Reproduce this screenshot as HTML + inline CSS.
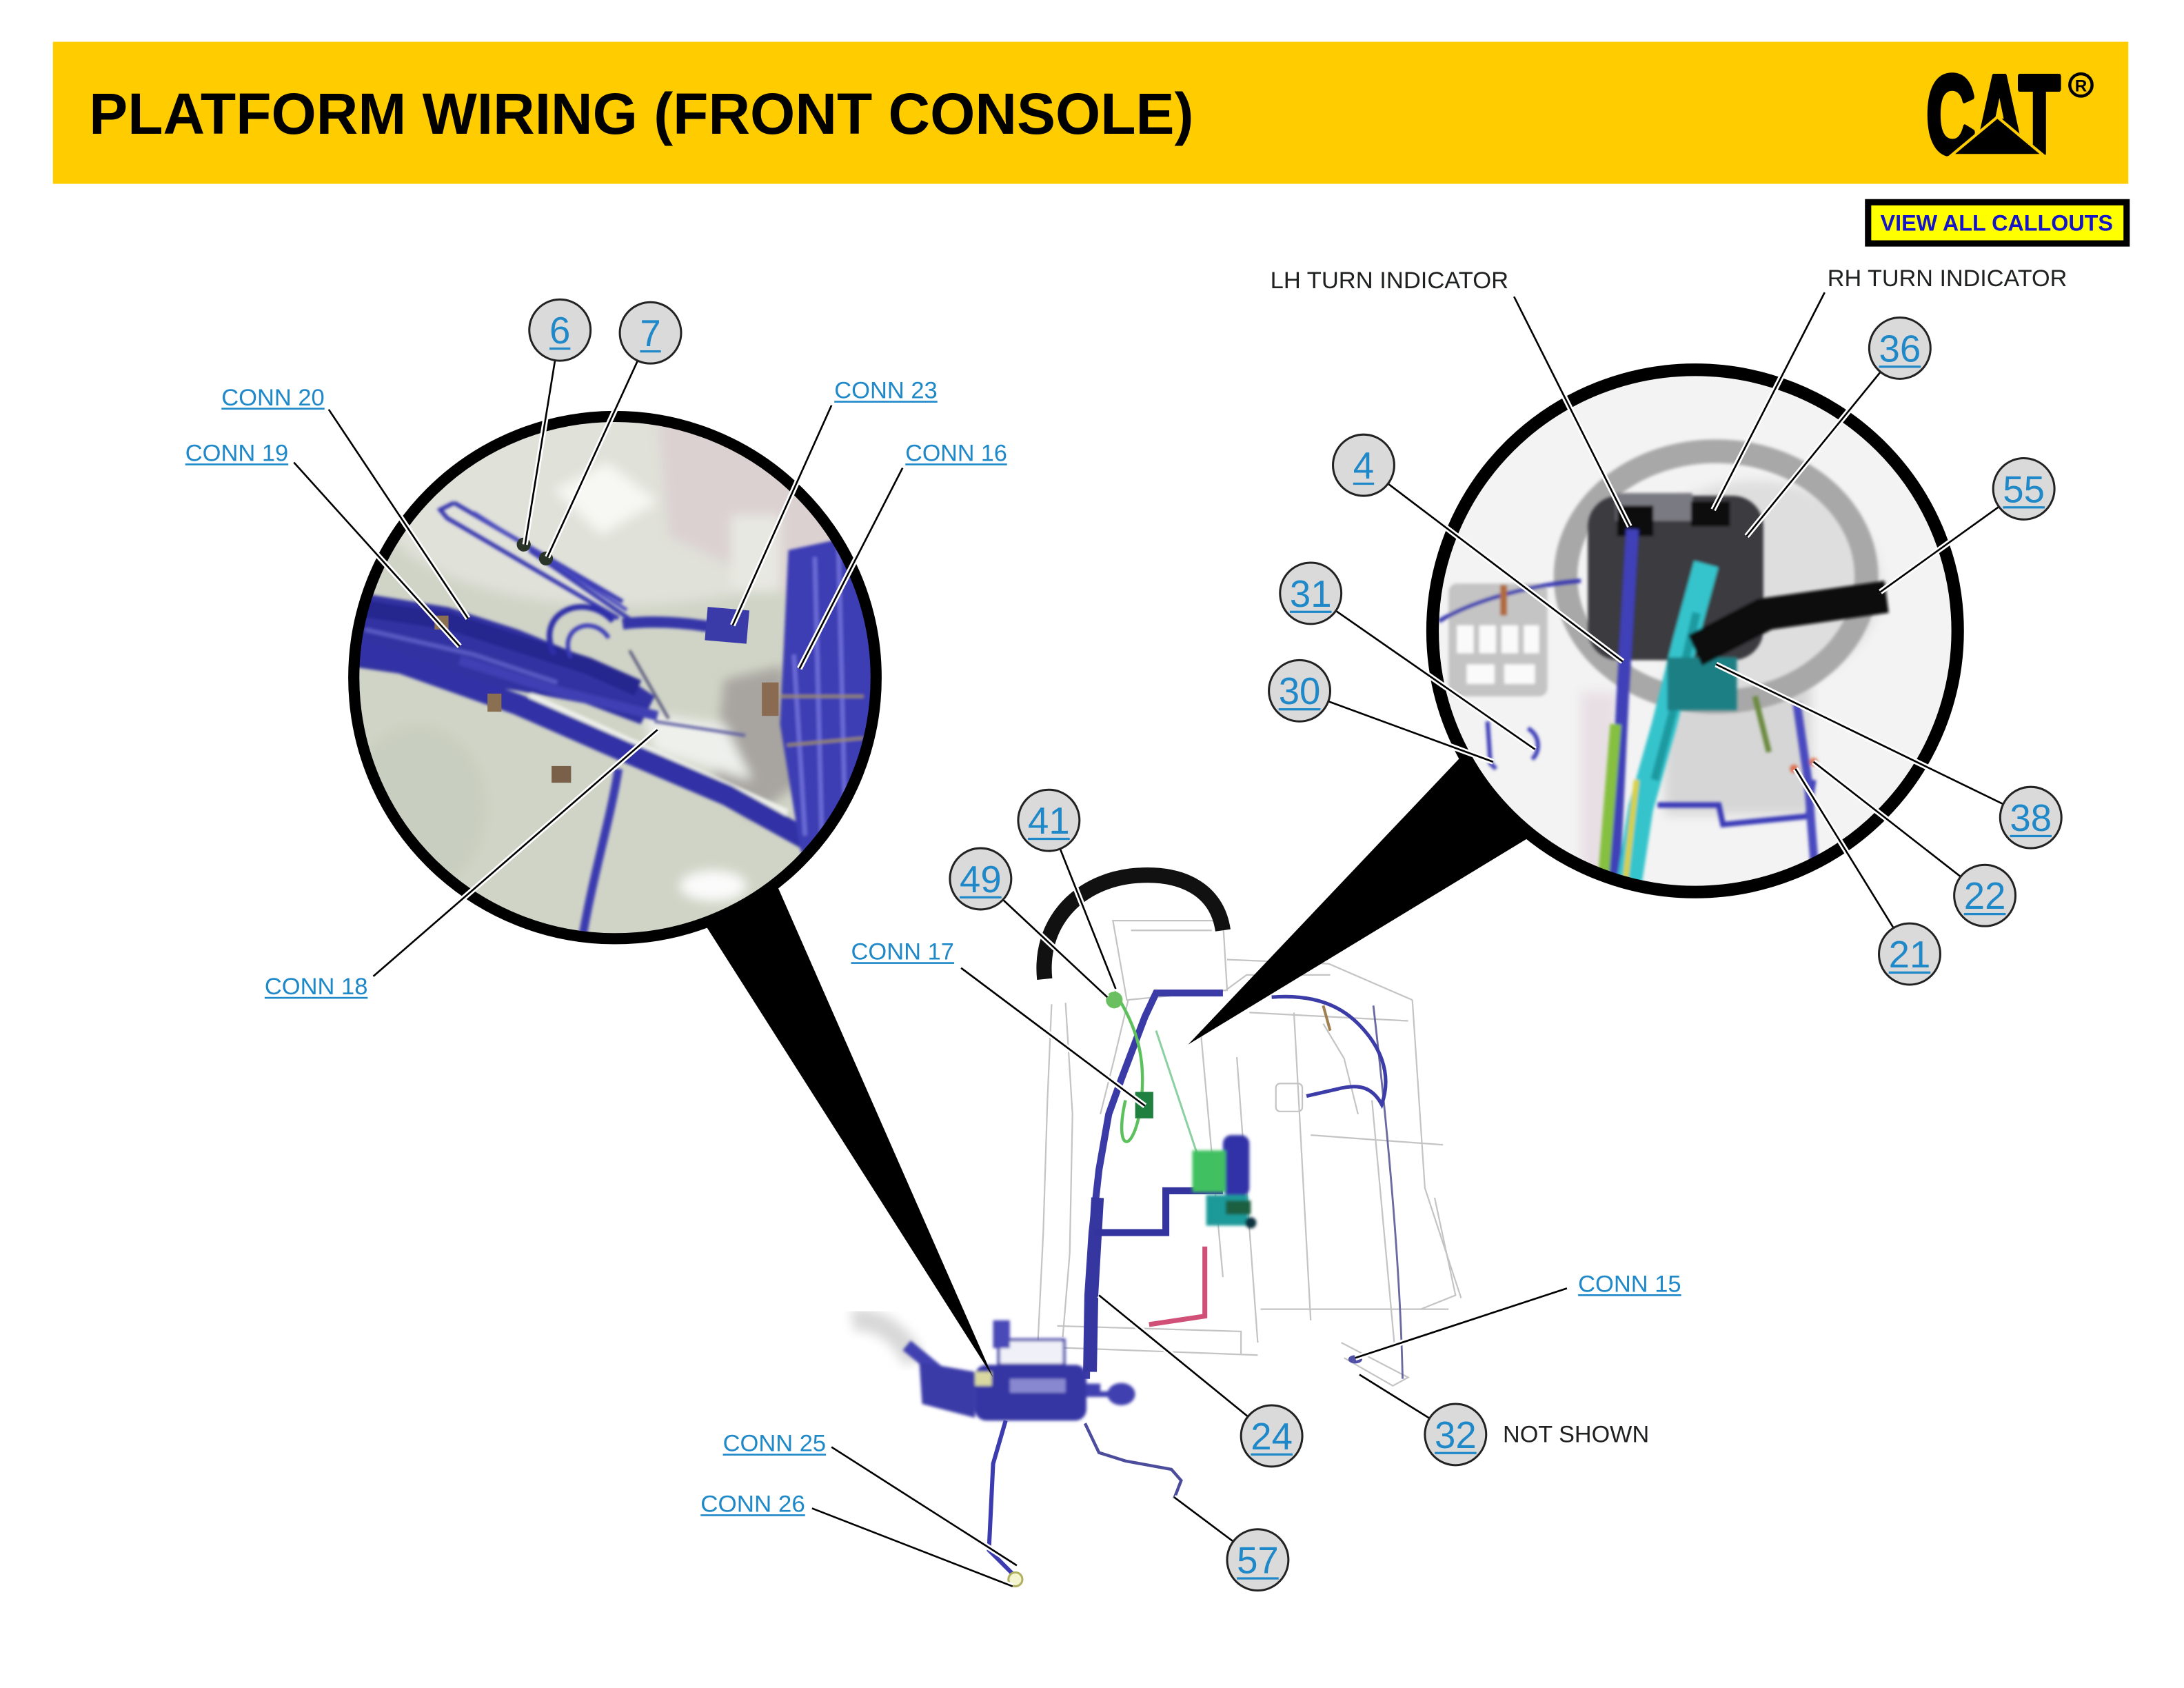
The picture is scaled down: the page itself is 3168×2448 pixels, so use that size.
<!DOCTYPE html>
<html><head><meta charset="utf-8">
<style>
html,body{margin:0;padding:0;background:#fff;}
svg{display:block;}
text{font-family:"Liberation Sans", Arial, sans-serif;}
</style></head>
<body>
<svg width="3168" height="2448" viewBox="0 0 1568 1212" preserveAspectRatio="none" xmlns="http://www.w3.org/2000/svg" xmlns:xlink="http://www.w3.org/1999/xlink">
<defs>
<clipPath id="cl"><circle cx="441.5" cy="486.5" r="186"/></clipPath>
<clipPath id="cr"><ellipse cx="1217" cy="453" rx="187" ry="186"/></clipPath>
<filter id="b1" x="-10%" y="-10%" width="120%" height="120%"><feGaussianBlur stdDeviation="1"/></filter>
<filter id="b3" x="-20%" y="-20%" width="140%" height="140%"><feGaussianBlur stdDeviation="4"/></filter>
<g id="leaders">
<line x1="402" y1="237" x2="377" y2="391"/>
<line x1="467" y1="239" x2="393" y2="400"/>
<line x1="236" y1="294" x2="336" y2="444"/>
<line x1="211" y1="332" x2="330" y2="464"/>
<line x1="597" y1="291" x2="526" y2="449"/>
<line x1="648" y1="336" x2="574" y2="480"/>
<line x1="268" y1="701" x2="472" y2="524"/>
<line x1="1087" y1="213" x2="1170" y2="378"/>
<line x1="1310" y1="210" x2="1230" y2="366"/>
<line x1="1364" y1="250" x2="1254" y2="385"/>
<line x1="1453" y1="351" x2="1350" y2="425"/>
<line x1="979" y1="334" x2="1165" y2="475"/>
<line x1="941" y1="426" x2="1102" y2="538"/>
<line x1="933" y1="496" x2="1072" y2="547"/>
<line x1="1458" y1="587" x2="1232" y2="477"/>
<line x1="1425" y1="643" x2="1302" y2="547"/>
<line x1="1371" y1="685" x2="1289" y2="552"/>
<line x1="753" y1="589" x2="801" y2="710"/>
<line x1="704" y1="631" x2="795" y2="716"/>
<line x1="690" y1="695" x2="822" y2="794"/>
<line x1="913" y1="1031" x2="789" y2="930"/>
<line x1="1045" y1="1030" x2="976" y2="987"/>
<line x1="1125" y1="925" x2="973" y2="975"/>
<line x1="597" y1="1039" x2="730" y2="1124"/>
<line x1="583" y1="1083" x2="727" y2="1139"/>
<line x1="903" y1="1120" x2="843" y2="1075"/>
</g>
</defs>

<rect width="1568" height="1212" fill="#fff"/>

<!-- HEADER -->
<rect x="38" y="30" width="1490" height="102" fill="#FFCC00"/>
<text x="64" y="96" font-size="42" font-weight="bold" textLength="793" lengthAdjust="spacingAndGlyphs" fill="#000">PLATFORM WIRING (FRONT CONSOLE)</text>
<!-- CAT logo -->
<text x="1383" y="110" font-size="80" font-weight="bold" textLength="96" lengthAdjust="spacingAndGlyphs" fill="#000" stroke="#000" stroke-width="4" stroke-linejoin="round">CAT</text>
<polygon points="1434,84 1401,111.5 1467,111.5" fill="#000" stroke="#FFCC00" stroke-width="2"/>
<rect x="1398" y="112" width="72" height="3" fill="#FFCC00"/>
<circle cx="1494" cy="61" r="8" fill="none" stroke="#000" stroke-width="2.2"/>
<text x="1494" y="65.5" font-size="12" font-weight="bold" text-anchor="middle" fill="#000">R</text>

<!-- VIEW ALL CALLOUTS -->
<rect x="1341.2" y="145.2" width="185.6" height="29.6" fill="#FFFF00" stroke="#000" stroke-width="4.5"/>
<text x="1350" y="165.5" font-size="16" font-weight="bold" textLength="167" lengthAdjust="spacingAndGlyphs" fill="#1414c8">VIEW ALL CALLOUTS</text>

<!-- ===== CENTER MACHINE ===== -->
<g fill="none" stroke="#c4c4c4" stroke-width="1.1">
<polygon points="799,661 878,661 881,711 809,718"/>
<line x1="812" y1="668" x2="870" y2="668"/>
<path d="M755,721 L752,790 L749,885 L745,967"/>
<path d="M765,720 L770,800 L768,900 L763,960"/>
<path d="M881,689 L954,692 L1014,718"/>
<path d="M1014,718 L1023,853 L1049,932"/>
<path d="M929,727 L941,948"/>
<path d="M985,790 L1001,964"/>
<path d="M745,967 L903,973"/>
<path d="M963,964 L1011,989 L1000,995 L965,975"/>
<path d="M862,740 L878,917"/>
<path d="M888,759 L903,964"/>
<path d="M897,727 L1011,733"/>
<path d="M941,815 L1036,822"/>
<path d="M905,940 L1040,940"/>
<path d="M810,718 L800,760 L790,800"/>
<path d="M880,711 L895,700 L955,700"/>
<rect x="916" y="778" width="19" height="20" rx="3"/>
<path d="M759,952 L891,956 L891,973"/>
<path d="M950,735 L965,760 L975,800"/>
<path d="M1030,860 L1045,930 L1020,940"/>
</g>
<!-- steering wheel -->
<path d="M750,703 C746,664 772,634 812,629 C850,625 874,640 878,668" fill="none" stroke="#111" stroke-width="11"/>
<!-- right thin wire -->
<path d="M986,722 C995,800 1005,900 1007,990" fill="none" stroke="#6a6aa0" stroke-width="1.4"/>
<path d="M913,716 C940,714 960,720 975,735 C990,750 1000,770 992,793 C985,780 975,778 960,782 L938,787" fill="none" stroke="#3c3ca8" stroke-width="2.6"/>
<path d="M950,722 L955,740" stroke="#a08050" stroke-width="2"/>
<!-- trunk -->
<path d="M878,713 L830,713 L822,730 L805,775 L796,800 L789,840 L784,885 L781,930 L780,990" fill="none" stroke="#3b3ba8" stroke-width="5"/>
<path d="M788,860 L784,930 L783,985" fill="none" stroke="#3636a0" stroke-width="9"/>
<path d="M786,885 L837,885 L837,855 L878,855" fill="none" stroke="#34349e" stroke-width="5"/>
<!-- green stuff -->
<path d="M800,712 C815,735 825,760 818,800 C812,830 800,825 808,790" fill="none" stroke="#5cc05c" stroke-width="2.2"/>
<rect x="815" y="784" width="13" height="19" fill="#1f8040"/>
<circle cx="800" cy="718" r="6" fill="#6ac060"/>
<path d="M830,740 L860,830" stroke="#8ad0a0" stroke-width="1.5"/>
<g filter="url(#b1)">
<rect x="878" y="815" width="19" height="44" rx="6" fill="#3232a8"/>
<rect x="856" y="826" width="24" height="30" fill="#40c060"/>
<rect x="866" y="858" width="30" height="22" fill="#1a9a9a"/>
<rect x="880" y="862" width="18" height="10" fill="#1f5f3f"/>
<circle cx="898" cy="878" r="4" fill="#103040"/>
</g>
<path d="M865,895 L865,945 L825,951" fill="none" stroke="#d05078" stroke-width="3.5"/>
<!-- lower harness -->
<g filter="url(#b3)">
<path d="M612,948 C630,945 650,960 656,978" fill="none" stroke="#d8d8d8" stroke-width="16"/>
</g>
<g filter="url(#b1)">
<path d="M651,966 L680,990 L730,998 L790,998" fill="none" stroke="#4040b0" stroke-width="9"/>
<path d="M660,978 L700,985 L700,1018 L662,1008 Z" fill="#3a3aa8"/>
<rect x="700" y="980" width="80" height="40" rx="8" fill="#3434a4"/>
<rect x="717" y="962" width="47" height="18" fill="#f0f0f8" stroke="#3a3aa8" stroke-width="2"/>
<rect x="713" y="948" width="12" height="20" fill="#4848b8"/>
<rect x="725" y="990" width="40" height="10" fill="#8888d0"/>
<ellipse cx="805" cy="1001" rx="10" ry="8" fill="#4040b0"/>
<path d="M780,1001 L800,1001" stroke="#4040b0" stroke-width="4"/>
<rect x="700" y="985" width="12" height="10" fill="#d8d8a0"/>
</g>
<path d="M722,1020 L713,1051 L710,1113 L728,1131" fill="none" stroke="#3c3cb0" stroke-width="3"/>
<path d="M779,1022 L789,1043 L808,1049 L841,1055 L848,1063 L843,1076" fill="none" stroke="#4c4c9c" stroke-width="2.2"/>
<circle cx="729" cy="1134" r="5" fill="#f4f4d0" stroke="#b0b060" stroke-width="1.5"/>
<ellipse cx="973" cy="976" rx="5" ry="3" fill="#5050a8"/>

<!-- WEDGES -->
<polygon points="505,662 558,636 713,989" fill="#000"/>
<polygon points="1054,538 1100,600 853,750" fill="#000"/>

<!-- ===== LEFT MAGNIFIER ===== -->
<g clip-path="url(#cl)">
<rect x="250" y="295" width="385" height="385" fill="#d0d4c6"/>
<g filter="url(#b3)">
<ellipse cx="445" cy="360" rx="175" ry="75" fill="#e0e1d9"/>
<polygon points="472,300 640,300 640,440 565,425 480,385" fill="#dbd1d1"/>
<polygon points="398,352 436,332 472,360 432,384" fill="#f7f7f3"/>
<rect x="525" y="370" width="35" height="55" fill="#e8e8e2"/>
<polygon points="520,488 562,478 576,560 540,588 512,560" fill="#a8a5a0"/>
<ellipse cx="512" cy="636" rx="24" ry="11" fill="#fbfbfb"/>
<ellipse cx="300" cy="580" rx="50" ry="60" fill="#c9cfc0"/>
<polygon points="462,512 520,520 540,560 470,540" fill="#eef0ec"/>
</g>
<g filter="url(#b1)" fill="none">
<path d="M380,500 L565,584" stroke="#eef0ea" stroke-width="6"/>
<polygon points="248,424 322,436 372,452 440,480 470,500 460,520 420,505 372,496 248,478" fill="#3030a2" stroke="none"/>
<path d="M248,435 L322,446 L372,462 L422,478 L458,494" stroke="#26268f" stroke-width="12"/>
<path d="M248,462 L372,506 L447,539 L522,571 L585,606" stroke="#3030a6" stroke-width="15"/>
<path d="M262,452 L340,470 L400,490" stroke="#5a5ac4" stroke-width="3"/>
<path d="M330,474 L400,496 L472,514" stroke="#4040b4" stroke-width="7"/>
<path d="M470,518 L535,528" stroke="#5a5aa0" stroke-width="2"/>
<path d="M452,467 L480,516" stroke="#55557a" stroke-width="2"/>
<path d="M326,361 L316,366 L321,372 L444,444" stroke="#3838b0" stroke-width="3"/>
<path d="M326,361 L447,432" stroke="#3838b0" stroke-width="3"/>
<path d="M340,368 L450,438" stroke="#4a4ac0" stroke-width="2.5"/>
<path d="M380,395 L460,450" stroke="#3a3ab0" stroke-width="3"/>
<path d="M398,470 C383,440 420,424 440,446" stroke="#2e2ea8" stroke-width="4"/>
<path d="M410,472 C400,452 425,440 437,458" stroke="#3a3ab8" stroke-width="3"/>
<path d="M447,448 C470,445 500,447 530,454" stroke="#3434a8" stroke-width="8"/>
<path d="M444,552 C438,590 425,630 417,680" stroke="#3a3ab0" stroke-width="6"/>
<path d="M566,395 L612,385 L628,470 L625,612 L575,612 L560,520 Z" fill="#3c3cb4" stroke="none"/>
<path d="M585,400 L590,600 M602,392 L607,600 M570,470 L578,600" stroke="#6c6cd8" stroke-width="3"/>
<path d="M560,500 L620,500 M565,535 L620,530" stroke="#9a8a5a" stroke-width="2"/>
</g>
<rect x="507" y="437" width="30" height="24" fill="#3a3aa8" transform="rotate(5 522 449)"/>
<circle cx="376" cy="391" r="5" fill="#2a3528"/>
<circle cx="392" cy="401" r="5" fill="#2a3528"/>
<rect x="350" y="498" width="10" height="13" fill="#8a7050"/>
<rect x="396" y="550" width="14" height="12" fill="#7a6048"/>
<rect x="312" y="442" width="10" height="10" fill="#8a7050"/>
<rect x="547" y="490" width="12" height="24" fill="#8a6a50"/>
</g>
<circle cx="441.5" cy="486.5" r="187.5" fill="none" stroke="#000" stroke-width="8"/>

<!-- ===== RIGHT MAGNIFIER ===== -->
<g clip-path="url(#cr)">
<rect x="1025" y="262" width="390" height="390" fill="#f3f3f3"/>
<g filter="url(#b3)">
<rect x="1195" y="485" width="105" height="100" fill="#d6d6d6"/>
<ellipse cx="1260" cy="420" rx="90" ry="75" fill="#dedede"/>
<rect x="1135" y="497" width="26" height="150" fill="#e8dfe4"/>
</g>
<ellipse cx="1232" cy="414" rx="108" ry="90" fill="none" stroke="#a8a8a8" stroke-width="17" filter="url(#b1)"/>
<g filter="url(#b1)">
<rect x="1040" y="419" width="71" height="81" rx="6" fill="#c4c4c4"/>
<g fill="#fafafa">
<rect x="1046" y="449" width="12" height="20"/><rect x="1062" y="449" width="12" height="20"/><rect x="1078" y="449" width="12" height="20"/><rect x="1094" y="449" width="11" height="20"/>
<rect x="1053" y="477" width="20" height="14"/><rect x="1080" y="477" width="22" height="14"/>
</g>
<path d="M1033,446 C1060,430 1100,420 1135,417" fill="none" stroke="#3838b0" stroke-width="3"/>
<rect x="1077" y="420" width="5" height="22" fill="#b06a3a"/>
<rect x="1140" y="356" width="126" height="118" rx="22" fill="#3a3a40"/>
<rect x="1160" y="354" width="55" height="20" fill="#7a7a82"/>
<rect x="1161" y="363" width="26" height="22" fill="#0a0a0a"/>
<rect x="1214" y="360" width="28" height="18" fill="#0a0a0a"/>
<path d="M1172,380 L1165,500 L1158,645" fill="none" stroke="#4040b8" stroke-width="9"/>
<path d="M1225,405 L1210,460 L1195,520 L1178,580 L1168,645" fill="none" stroke="#34c4cc" stroke-width="18"/>
<path d="M1218,440 L1204,500 L1188,560" fill="none" stroke="#1f9aa0" stroke-width="6"/>
<rect x="1197" y="472" width="50" height="38" fill="#1a7f84"/>
<path d="M1160,520 L1150,645" fill="none" stroke="#86c040" stroke-width="8"/>
<path d="M1175,560 L1166,640" fill="none" stroke="#d8d040" stroke-width="4"/>
<polygon points="1212,456 1262,430 1353,417 1356,440 1272,452 1222,478" fill="#0d0d0d"/>
<path d="M1190,578 L1234,578 L1237,592 L1298,586 L1302,560" fill="none" stroke="#3a3ab8" stroke-width="4"/>
<path d="M1290,505 L1298,560 L1303,625" fill="none" stroke="#4848c0" stroke-width="6"/>
<path d="M1068,518 L1070,548 L1074,552" fill="none" stroke="#3a3ab8" stroke-width="3"/>
<path d="M1097,523 C1106,528 1106,540 1100,545" fill="none" stroke="#3a3ab8" stroke-width="3"/>
<circle cx="1288" cy="552" r="3" fill="#e07050"/>
<circle cx="1302" cy="547" r="3" fill="#e08060"/>
<path d="M1260,500 L1270,540" stroke="#6a8a40" stroke-width="4"/>
</g>
</g>
<ellipse cx="1217" cy="453" rx="188.5" ry="187.5" fill="none" stroke="#000" stroke-width="9"/>

<!-- LEADERS -->
<use xlink:href="#leaders" href="#leaders" stroke="#fff" stroke-width="4"/>
<use xlink:href="#leaders" href="#leaders" stroke="#000" stroke-width="1.3"/>

<!-- TEXT LABELS -->
<g font-size="17" fill="#1f2020">
<text x="912" y="207" textLength="171" lengthAdjust="spacingAndGlyphs">LH TURN INDICATOR</text>
<text x="1312" y="205.5" textLength="172" lengthAdjust="spacingAndGlyphs">RH TURN INDICATOR</text>
<text x="1079" y="1035.5" textLength="105" lengthAdjust="spacingAndGlyphs">NOT SHOWN</text>
</g>
<g font-size="17" fill="#1e88c8">
<text x="159" y="291" textLength="74" lengthAdjust="spacingAndGlyphs">CONN 20</text>
<rect x="159" y="292.8" width="74" height="1.3"/>
<text x="133" y="331" textLength="74" lengthAdjust="spacingAndGlyphs">CONN 19</text>
<rect x="133" y="332.8" width="74" height="1.3"/>
<text x="599" y="286" textLength="74" lengthAdjust="spacingAndGlyphs">CONN 23</text>
<rect x="599" y="287.8" width="74" height="1.3"/>
<text x="650" y="331" textLength="73" lengthAdjust="spacingAndGlyphs">CONN 16</text>
<rect x="650" y="332.8" width="73" height="1.3"/>
<text x="190" y="714" textLength="74" lengthAdjust="spacingAndGlyphs">CONN 18</text>
<rect x="190" y="715.8" width="74" height="1.3"/>
<text x="611" y="689" textLength="74" lengthAdjust="spacingAndGlyphs">CONN 17</text>
<rect x="611" y="690.8" width="74" height="1.3"/>
<text x="1133" y="927.5" textLength="74" lengthAdjust="spacingAndGlyphs">CONN 15</text>
<rect x="1133" y="929.3" width="74" height="1.3"/>
<text x="519" y="1042" textLength="74" lengthAdjust="spacingAndGlyphs">CONN 25</text>
<rect x="519" y="1043.8" width="74" height="1.3"/>
<text x="503" y="1085.5" textLength="75" lengthAdjust="spacingAndGlyphs">CONN 26</text>
<rect x="503" y="1087.3" width="75" height="1.3"/>
</g>

<!-- CALLOUT CIRCLES -->
<g fill="#dadada" stroke="#222" stroke-width="1.5">
<circle cx="402" cy="237" r="22"/>
<circle cx="467" cy="239" r="22"/>
<circle cx="1364" cy="250" r="22"/>
<circle cx="979" cy="334" r="22"/>
<circle cx="1453" cy="351" r="22"/>
<circle cx="941" cy="426" r="22"/>
<circle cx="933" cy="496" r="22"/>
<circle cx="753" cy="589" r="22"/>
<circle cx="1458" cy="587" r="22"/>
<circle cx="704" cy="631" r="22"/>
<circle cx="1425" cy="643" r="22"/>
<circle cx="1371" cy="685" r="22"/>
<circle cx="913" cy="1031" r="22"/>
<circle cx="1045" cy="1030" r="22"/>
<circle cx="903" cy="1120" r="22"/>
</g>
<g font-size="27" fill="#1e88c8" text-anchor="middle">
<text x="402" y="246.6">6</text><rect x="394.5" y="249.5" width="15" height="1.6"/>
<text x="467" y="248.6">7</text><rect x="459.5" y="251.5" width="15" height="1.6"/>
<text x="1364" y="259.6">36</text><rect x="1349" y="262.5" width="30" height="1.6"/>
<text x="979" y="343.6">4</text><rect x="971.5" y="346.5" width="15" height="1.6"/>
<text x="1453" y="360.6">55</text><rect x="1438" y="363.5" width="30" height="1.6"/>
<text x="941" y="435.6">31</text><rect x="926" y="438.5" width="30" height="1.6"/>
<text x="933" y="505.6">30</text><rect x="918" y="508.5" width="30" height="1.6"/>
<text x="753" y="598.6">41</text><rect x="738" y="601.5" width="30" height="1.6"/>
<text x="1458" y="596.6">38</text><rect x="1443" y="599.5" width="30" height="1.6"/>
<text x="704" y="640.6">49</text><rect x="689" y="643.5" width="30" height="1.6"/>
<text x="1425" y="652.6">22</text><rect x="1410" y="655.5" width="30" height="1.6"/>
<text x="1371" y="694.6">21</text><rect x="1356" y="697.5" width="30" height="1.6"/>
<text x="913" y="1040.6">24</text><rect x="898" y="1043.5" width="30" height="1.6"/>
<text x="1045" y="1039.6">32</text><rect x="1030" y="1042.5" width="30" height="1.6"/>
<text x="903" y="1129.6">57</text><rect x="888" y="1132.5" width="30" height="1.6"/>
</g>
</svg>
</body></html>
